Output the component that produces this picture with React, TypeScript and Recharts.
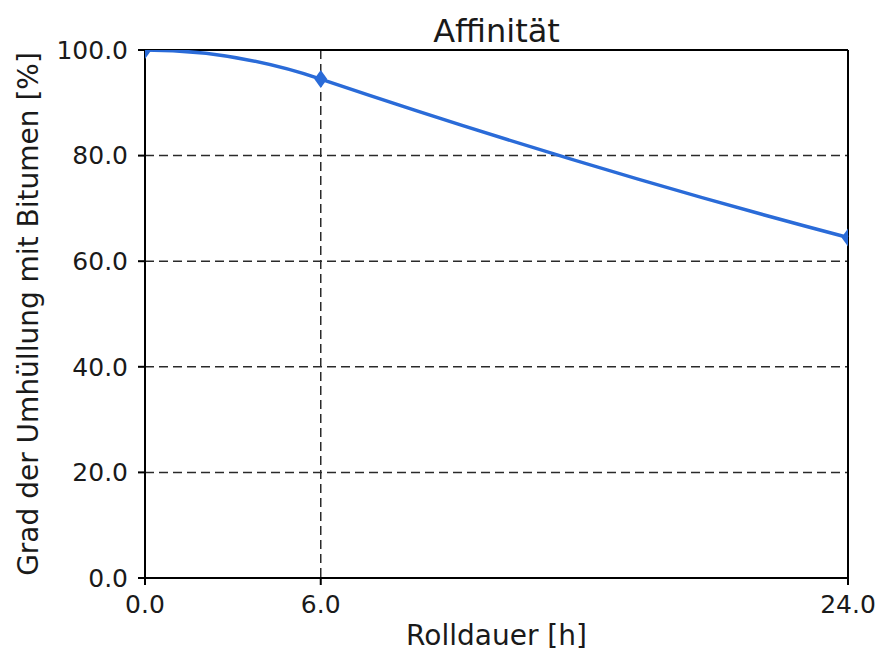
import { CartesianGrid, Line, LineChart, ReferenceLine, XAxis, YAxis } from "recharts";

const hours = [0, 6, 24];
const coating = [100, 94.5, 64.5];
const xTicks = [0, 6, 24];
const yTicks = [0, 20, 40, 60, 80, 100];

const data = hours.map((h, i) => ({ h, coating: coating[i] }));

const FONT = "DejaVu Sans, sans-serif";
const BLUE = "#2a6bd8";
const INK = "#1a1a1a";

const W = 879;
const H = 657;
const MARGIN = { top: 50, right: 31, left: 0, bottom: 0 };
const Y_W = 145;
const X_H = 79;
const plot = {
  x: MARGIN.left + Y_W,
  y: MARGIN.top,
  w: W - MARGIN.left - Y_W - MARGIN.right,
  h: H - MARGIN.top - X_H - MARGIN.bottom,
};

// cubic hermite through the points: flat start, slight sag on later segments
const sagCurve = (context: any) => {
  let xs: number[] = [];
  let ys: number[] = [];
  return {
    areaStart() {},
    areaEnd() {},
    lineStart() {
      xs = [];
      ys = [];
    },
    point(x: number, y: number) {
      xs.push(+x);
      ys.push(+y);
    },
    lineEnd() {
      const n = xs.length;
      if (!n) return;
      context.moveTo(xs[0], ys[0]);
      if (n === 1) return;
      const sec = xs.slice(1).map((x, i) => (ys[i + 1] - ys[i]) / (x - xs[i]));
      const m = xs.map((_, i) => {
        if (i === 0) return 0;
        if (i === n - 1) return sec[i - 1] * 0.87;
        return sec[i] * 1.12;
      });
      for (let i = 0; i < n - 1; i++) {
        const dx = xs[i + 1] - xs[i];
        context.bezierCurveTo(
          xs[i] + dx / 3,
          ys[i] + (m[i] * dx) / 3,
          xs[i + 1] - dx / 3,
          ys[i + 1] - (m[i + 1] * dx) / 3,
          xs[i + 1],
          ys[i + 1]
        );
      }
    },
  };
};

// markers get clipped at the axes box like matplotlib does
function Diamond(props: any) {
  const { cx, cy, index } = props;
  if (cx == null || cy == null) return null;
  const rx = 6.5;
  const ry = 9;
  const id = `dot-clip-${index}`;
  return (
    <g>
      <defs>
        <clipPath id={id}>
          <rect x={plot.x} y={plot.y} width={plot.w} height={plot.h} />
        </clipPath>
      </defs>
      <path
        clipPath={`url(#${id})`}
        d={`M${cx},${cy - ry} L${cx + rx},${cy} L${cx},${cy + ry} L${cx - rx},${cy} Z`}
        fill={BLUE}
      />
    </g>
  );
}

export default function App() {
  return (
    <div style={{ position: "absolute", left: 0, top: 0, background: "#fff" }}>
      <LineChart width={W} height={H} data={data} margin={MARGIN}>
        <CartesianGrid stroke="#2a2a2a" strokeDasharray="9 5" strokeWidth={1.5} />
        <XAxis
          dataKey="h"
          type="number"
          domain={[0, 24]}
          ticks={xTicks}
          tickFormatter={(v) => Number(v).toFixed(1)}
          height={X_H}
          stroke="#000"
          strokeWidth={2}
          tickSize={7}
          tickMargin={10}
          tick={{ fill: INK, fontSize: 25, fontFamily: FONT }}
          label={{
            value: "Rolldauer [h]",
            position: "insideBottom",
            offset: 12,
            fill: INK,
            fontSize: 28,
            fontFamily: FONT,
          }}
        />
        <YAxis
          type="number"
          domain={[0, 100]}
          allowDataOverflow
          ticks={yTicks}
          tickFormatter={(v) => Number(v).toFixed(1)}
          width={Y_W}
          stroke="#000"
          strokeWidth={2}
          tickSize={7}
          tickMargin={10}
          tick={{ fill: INK, fontSize: 25, fontFamily: FONT }}
          label={{
            value: "Grad der Umhüllung mit Bitumen [%]",
            angle: -90,
            position: "insideLeft",
            offset: 28,
            fill: INK,
            fontSize: 28,
            fontFamily: FONT,
            style: { textAnchor: "middle" },
          }}
        />
        <ReferenceLine y={100} stroke="#000" strokeWidth={2} />
        <ReferenceLine x={24} stroke="#000" strokeWidth={2} />
        <ReferenceLine
          y={100}
          stroke="none"
          label={{
            value: "Affinität",
            position: "top",
            offset: 8,
            fill: INK,
            fontSize: 32,
            fontFamily: FONT,
          }}
        />
        <Line
          type={sagCurve as any}
          dataKey="coating"
          stroke={BLUE}
          strokeWidth={3.5}
          dot={<Diamond />}
          activeDot={false}
          isAnimationActive={false}
        />
      </LineChart>
    </div>
  );
}
